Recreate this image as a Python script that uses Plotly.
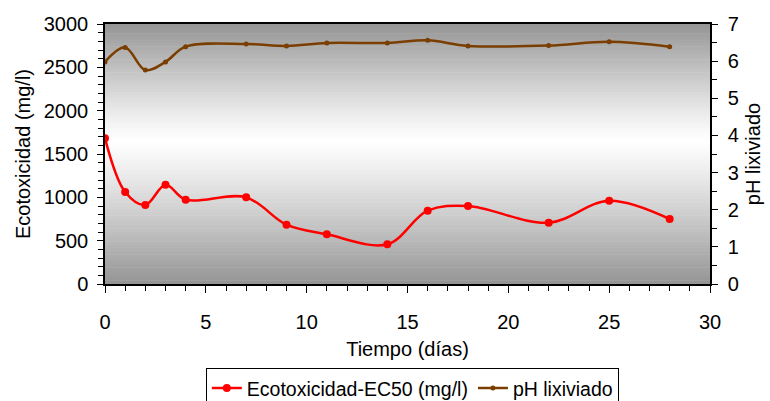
import plotly.graph_objects as go

# Data
dias = [0, 1, 2, 3, 4, 7, 9, 11, 14, 16, 18, 22, 25, 28]
ecotox = [1681, 1062, 912, 1146, 973, 1000, 684, 573, 458, 846, 900, 707, 961, 750]
ph = [5.98, 6.37, 5.76, 5.98, 6.39, 6.46, 6.41, 6.49, 6.49, 6.56, 6.41, 6.42, 6.52, 6.39]

serie_eco = "Ecotoxicidad-EC50 (mg/l)"
serie_ph = "pH lixiviado"

FONT = "Liberation Sans, Arial, sans-serif"
FS = 20

fig = go.Figure()

fig.add_trace(go.Scatter(
    x=dias, y=ecotox, name=serie_eco, mode="lines+markers",
    line=dict(color="#FF0000", width=2.5, shape="spline", smoothing=1.0),
    marker=dict(color="#FF0000", size=8),
    yaxis="y",
))
fig.add_trace(go.Scatter(
    x=dias, y=ph, name=serie_ph, mode="lines+markers",
    line=dict(color="#7A3E00", width=2.5, shape="spline", smoothing=1.0),
    marker=dict(color="#7A3E00", size=5),
    yaxis="y2",
))

# Gradient background (gray at edges, white in the middle)
N = 80
center = 0.55
shapes = []
for i in range(N):
    y0 = i / N
    y1 = (i + 1) / N
    t = (y0 + y1) / 2
    if t < center:
        d = (center - t) / center
    else:
        d = (t - center) / (1 - center)
    d = d ** 1.15
    g = int(round(255 - (255 - 148) * d))
    shapes.append(dict(type="rect", xref="paper", yref="paper", x0=0, x1=1,
                       y0=y0, y1=y1 + 0.002, fillcolor=f"rgb({g},{g},{g})",
                       line=dict(width=0), layer="below"))

axis_common = dict(showgrid=False, zeroline=False, showline=True, linecolor="black",
                   linewidth=1.5, ticks="outside", tickcolor="black",
                   tickfont=dict(family=FONT, size=FS, color="black"))

fig.update_layout(
    width=770, height=401,
    margin=dict(l=105, r=60, t=24, b=117, autoexpand=False),
    paper_bgcolor="white", plot_bgcolor="white",
    font=dict(family=FONT, size=FS, color="black"),
    shapes=shapes,
    showlegend=True,
    legend=dict(orientation="h", x=0.508, xanchor="center", y=-0.322, yanchor="top",
                bordercolor="black", borderwidth=1, bgcolor="white",
                font=dict(family=FONT, size=19.5, color="black"),
                tracegroupgap=0, itemwidth=30),
    xaxis=dict(range=[0, 30], dtick=5, tick0=0, ticklen=7,
               minor=dict(dtick=1, ticks="outside", ticklen=5, tickcolor="black"),
               mirror=True, ticklabelstandoff=12,
               title=dict(text="Tiempo (días)", font=dict(family=FONT, size=FS), standoff=10),
               **axis_common),
    yaxis=dict(range=[0, 3000], dtick=500, tick0=0, ticklen=6,
               minor=dict(dtick=100, ticks="outside", ticklen=5, tickcolor="black"),
               ticklabelstandoff=5,
               title=dict(text="Ecotoxicidad (mg/l)", font=dict(family=FONT, size=FS), standoff=8),
               **axis_common),
    yaxis2=dict(range=[0, 7], dtick=1, tick0=0, ticklen=6, overlaying="y", side="right",
                minor=dict(dtick=0.5, ticks="outside", ticklen=5, tickcolor="black"),
                ticklabelstandoff=6,
                title=dict(text="pH lixiviado", font=dict(family=FONT, size=FS), standoff=8),
                **axis_common),
)

fig.write_html("out.html")
